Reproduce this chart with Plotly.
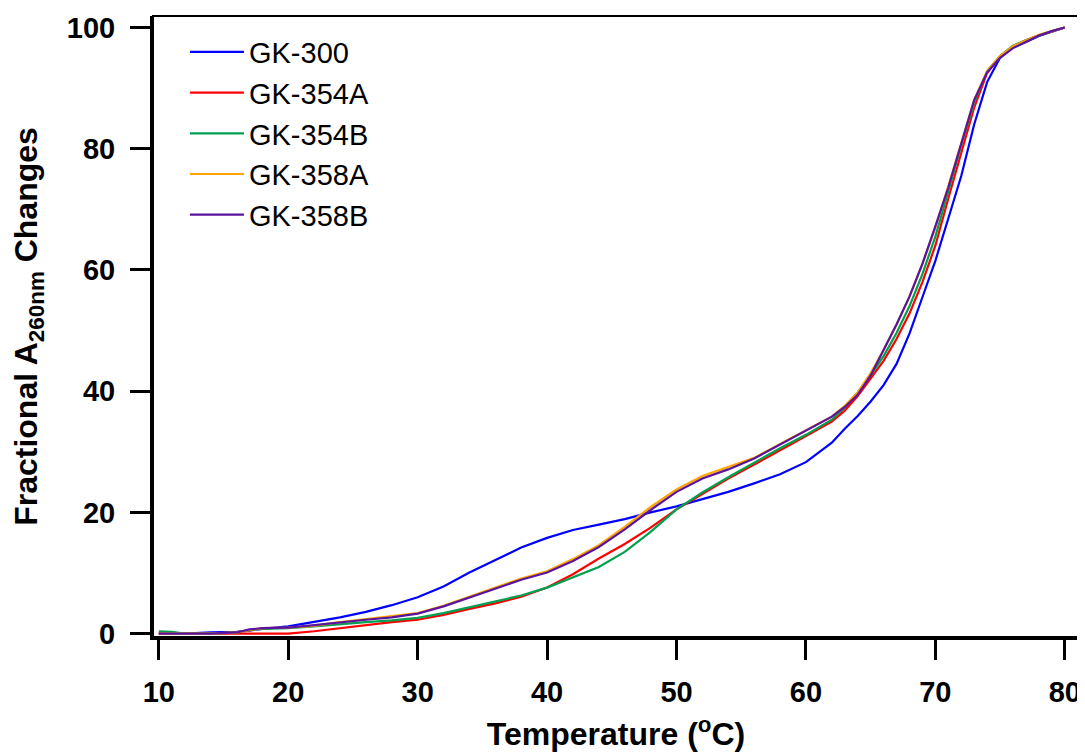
import plotly.graph_objects as go

# Temperature grid (deg C)
temp = [10, 11, 12, 14, 16, 17, 18, 20, 22, 24, 26, 28, 30, 32, 34, 36, 38, 40,
        42, 44, 46, 48, 50, 52, 54, 56, 58, 60, 62, 63, 64, 65, 66, 67, 68, 69,
        70, 71, 72, 73, 74, 75, 76, 77, 78, 79, 80]

# Fractional A260nm changes (%) for each sample
gk300 = [0, 0, 0, 0.2, 0.3, 0.5, 0.8, 1.2, 1.9, 2.7, 3.6, 4.7, 6.0, 7.8, 10.1, 12.2,
         14.2, 15.8, 17.1, 18.0, 18.9, 20.0, 21.0, 22.2, 23.4, 24.8, 26.3, 28.3,
         31.5, 33.8, 35.9, 38.3, 41.0, 44.5, 49.5, 55.5, 61.5, 68.5, 75.5, 84.0,
         91.0, 95.0, 96.8, 97.6, 98.6, 99.3, 100]
gk354a = [0, 0, 0, 0, 0, 0, 0, 0, 0.4, 0.9, 1.5, 1.9, 2.3, 3.1, 4.1, 5.0, 6.1, 7.6,
          9.8, 12.4, 14.8, 17.5, 20.5, 23.0, 25.6, 27.9, 30.2, 32.6, 35.0, 36.8,
          39.2, 42.0, 45.0, 48.6, 52.8, 58.0, 64.0, 71.8, 79.5, 86.8, 92.5, 95.2,
          96.9, 97.9, 98.7, 99.4, 100]
gk354b = [0.4, 0.3, 0, 0, 0.2, 0.6, 0.8, 0.9, 1.2, 1.6, 1.9, 2.2, 2.6, 3.4, 4.4, 5.3,
          6.3, 7.6, 9.3, 11.0, 13.5, 16.8, 20.5, 23.3, 25.8, 28.2, 30.6, 32.8, 35.3,
          37.3, 39.8, 42.6, 45.8, 49.6, 54.0, 59.3, 65.5, 73.0, 80.6, 87.6, 92.8,
          95.3, 97.0, 97.9, 98.7, 99.4, 100]
gk358a = [0, 0, 0, 0, 0.2, 0.6, 0.9, 1.0, 1.3, 1.9, 2.4, 2.8, 3.4, 4.6, 6.1, 7.7, 9.1,
          10.3, 12.3, 14.6, 17.6, 20.9, 23.8, 26.0, 27.5, 29.0, 31.3, 33.5, 35.8,
          37.6, 39.8, 43.0, 46.8, 51.0, 55.6, 61.0, 67.0, 73.8, 81.0, 88.0, 92.8,
          95.3, 96.9, 97.9, 98.8, 99.4, 100]
gk358b = [0, 0, 0, 0, 0.2, 0.7, 0.9, 1.0, 1.4, 1.9, 2.3, 2.7, 3.3, 4.5, 6.0, 7.5, 8.9,
          10.1, 12.0, 14.3, 17.2, 20.4, 23.4, 25.6, 27.1, 28.9, 31.2, 33.4, 35.8,
          37.4, 39.4, 42.6, 46.8, 51.0, 55.6, 61.0, 67.2, 73.6, 80.8, 88.0, 92.6,
          95.0, 96.6, 97.7, 98.7, 99.4, 100]

names = ['GK-300', 'GK-354A', 'GK-354B', 'GK-358A', 'GK-358B']
colors = ['#0000FF', '#FF0000', '#00A050', '#FFA500', '#5A14A0']
series = [gk300, gk354a, gk354b, gk358a, gk358b]

fig = go.Figure()
for name, col, vals in zip(names, colors, series):
    fig.add_trace(go.Scatter(x=temp, y=vals, mode='lines', name=name,
                             line=dict(color=col, width=2.2)))

tick_font = dict(family='Liberation Sans, Arial', size=29, color='black', weight='bold')
title_font = dict(family='Liberation Sans, Arial', size=32, color='black', weight='bold')

# page body has an 8px margin, so the figure is a bit smaller than the window
fig.update_layout(
    width=1077, height=744,
    margin=dict(l=145, r=4, t=8, b=115),
    plot_bgcolor='white', paper_bgcolor='white',
    showlegend=True,
    legend=dict(x=0.0345, y=0.983, xanchor='left', yanchor='top',
                bgcolor='rgba(0,0,0,0)', itemwidth=54,
                font=dict(family='Liberation Sans, Arial', size=29, color='black')),
    xaxis=dict(range=[9.55, 81.1], tickvals=[10, 20, 30, 40, 50, 60, 70, 80],
               showgrid=False, zeroline=False, showline=True, linecolor='black',
               linewidth=3, ticks='outside', ticklen=20, tickwidth=3, tickcolor='black',
               tickfont=tick_font, ticklabelstandoff=7,
               title=dict(text='Temperature (<sup>o</sup>C)', font=title_font, standoff=18)),
    yaxis=dict(range=[-0.55, 101.9], tickvals=[0, 20, 40, 60, 80, 100],
               showgrid=False, zeroline=False, showline=True, linecolor='black',
               linewidth=3, ticks='outside', ticklen=20, tickwidth=3, tickcolor='black',
               tickfont=tick_font, ticklabelstandoff=9,
               title=dict(text='Fractional A<sub>260nm</sub> Changes', font=title_font,
                          standoff=20)),
)

# thin frame on top and right
fig.add_shape(type='rect', xref='paper', yref='paper', x0=0, y0=0, x1=1, y1=1,
              line=dict(color='black', width=2))

fig.write_html('out.html')
